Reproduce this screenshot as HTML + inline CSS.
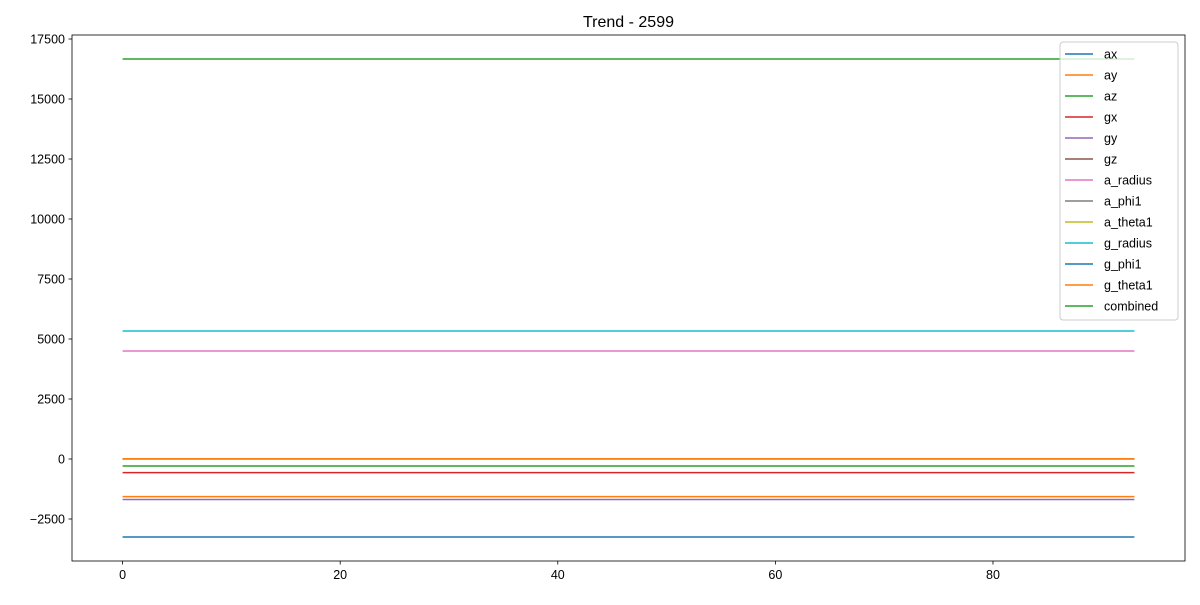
<!DOCTYPE html>
<html><head><meta charset="utf-8"><style>
body{margin:0;background:#fff;font-family:"Liberation Sans",sans-serif}
svg text{font-family:"Liberation Sans",sans-serif;fill:#000}
</style></head><body>
<svg id="c" width="1200" height="600"></svg>
<script>
const names=["ax","ay","az","gx","gy","gz","a_radius","a_phi1","a_theta1","g_radius","g_phi1","g_theta1","combined"];
const values=[-3250,-1570,-290,-570,-1690,5,4500,10,8,5333,3,12,16667];
const colors=["#1f77b4","#ff7f0e","#2ca02c","#d62728","#9467bd","#8c564b","#e377c2","#7f7f7f","#bcbd22","#17becf","#1f77b4","#ff7f0e","#2ca02c"];
const yTicks=[-2500,0,2500,5000,7500,10000,12500,15000,17500];
const xTicks=[0,20,40,60,80];
const nPoints=94;
const L=72,R=1185,T=35,B=561;
const xmin=-4.65,xmax=97.65,ymin=-4250,ymax=17667;
const X=v=>L+(v-xmin)/(xmax-xmin)*(R-L);
const Y=v=>B-(v-ymin)/(ymax-ymin)*(B-T);
const svg=document.getElementById('c');const NS="http://www.w3.org/2000/svg";
function mk(t,a,p){const e=document.createElementNS(NS,t);for(const k in a)e.setAttribute(k,a[k]);(p||svg).appendChild(e);return e;}
const title=mk('text',{x:(L+R)/2,y:27,'text-anchor':'middle','font-size':16});title.textContent="Trend - 2599";


values.forEach((v,i)=>{const pts=[];for(let k=0;k<nPoints;k++)pts.push(X(k)+','+Y(v));
const l=mk('polyline',{points:pts.join(' '),fill:'none',stroke:colors[i],'stroke-width':1.5});

});
const ax=mk('rect',{x:L,y:T,width:R-L,height:B-T,fill:'none',stroke:'#000','stroke-width':0.8});


yTicks.forEach(t=>{mk('line',{x1:L-3.5,x2:L,y1:Y(t),y2:Y(t),stroke:'#000','stroke-width':0.8});
const tx=mk('text',{x:L-7,y:Y(t)+4.5,'text-anchor':'end','font-size':12.5});tx.textContent=String(t).replace('-','\u2212');

});
xTicks.forEach(t=>{mk('line',{x1:X(t),x2:X(t),y1:B,y2:B+3.5,stroke:'#000','stroke-width':0.8});
const tx=mk('text',{x:X(t),y:B+18,'text-anchor':'middle','font-size':12.5});tx.textContent=t;

});
const lg=mk('g',{});


mk('rect',{x:1060,y:42,width:118,height:278,rx:3,fill:'#fff','fill-opacity':0.8,stroke:'#ccc'},lg);
names.forEach((n,i)=>{const y=54+i*21;
mk('line',{x1:1065,x2:1093,y1:y,y2:y,stroke:colors[i],'stroke-width':1.5},lg);
const tx=mk('text',{x:1104,y:y+4.5,'font-size':12.5},lg);tx.textContent=n;

});
</script>
</body></html>
